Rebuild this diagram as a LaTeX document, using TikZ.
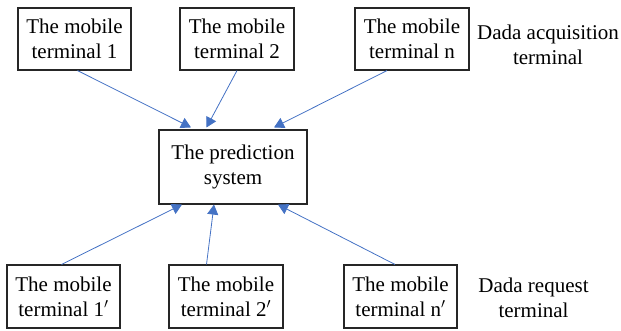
\documentclass[tikz,border=0pt]{standalone}
\usepackage{fontspec}
\setmainfont{Liberation Serif}
\usetikzlibrary{arrows.meta,calc}
\definecolor{arrblue}{HTML}{4472C4}
\definecolor{boxline}{HTML}{262626}
\begin{document}
\begin{tikzpicture}[x=1pt,y=-1pt,
  box/.style={draw=boxline,line width=1.1pt,minimum height=62pt,inner sep=0pt,
    align=center,font=\fontsize{21}{25}\selectfont},
  lab/.style={align=center,inner sep=0pt,font=\fontsize{21}{25}\selectfont},
  arr/.style={draw=arrblue,line width=0.8pt,-{Triangle[length=10pt,width=11pt]}}]
\useasboundingbox (0,0) rectangle (621,330);
\node[box,minimum width=113pt] (t1) at (74.5,39) {The mobile\\terminal 1};
\node[box,minimum width=114pt] (t2) at (237,39) {The mobile\\terminal 2};
\node[box,minimum width=114pt] (t3) at (412,39) {The mobile\\terminal n};
\node[lab] (l1) at (548,45) {Dada acquisition\\terminal};
\node[box,minimum width=148pt,minimum height=74pt] (c) at (233,167) {The prediction\\system};
\node[box,minimum width=113pt,minimum height=63pt] (b1) at (63.5,296.5) {The mobile\\terminal 1$'$};
\node[box,minimum width=114pt,minimum height=63pt] (b2) at (226,296.5) {The mobile\\terminal 2$'$};
\node[box,minimum width=113pt,minimum height=63pt] (b3) at (400.5,296.5) {The mobile\\terminal n$'$};
\node[lab] (l2) at (533.5,298) {Dada request\\terminal};
\draw[arr] ([xshift=3pt]t1.south) -- ([xshift=-42pt,yshift=2pt]c.north);
\draw[arr] (t2.south) -- ([xshift=-26.5pt,yshift=2pt]c.north);
\draw[arr] ([xshift=-25pt]t3.south) -- ([xshift=41pt,yshift=2pt]c.north);
\draw[arr] ([xshift=-2pt]b1.north) -- ([xshift=-51pt]c.south);
\draw[arr] ([xshift=-19.5pt]b2.north) -- ([xshift=-19pt]c.south);
\draw[arr] ([xshift=-5.5pt]b3.north) -- ([xshift=45pt]c.south);
\end{tikzpicture}
\end{document}
